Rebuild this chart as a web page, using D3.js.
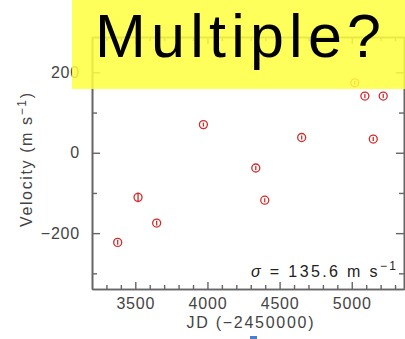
<!DOCTYPE html>
<html>
<head>
<meta charset="utf-8">
<script src="https://cdn.jsdelivr.net/npm/d3@7"></script>
<style>
  body { margin: 0; background: #fff; }
  svg { display: block; }
  text { font-family: "Liberation Sans", Arial, sans-serif; }
</style>
</head>
<body>
<div id="chart"></div>
<script>
// radial velocity measurements (JD - 2450000, m/s)
const jd = [3378, 3519, 3648, 3972, 4335, 4397, 4653, 5021, 5091, 5149, 5218];
const velocity = [-223, -111, -175, 70, -38, -118, 38, 174, 141, 34, 141];
const velErr = [6, 12, 6, 5, 5, 5, 5, 5, 5, 5, 5];
const xTicks = [3500, 4000, 4500, 5000];
const yTicks = [-200, 0, 200];

const width = 405, height = 339;
const margin = { top: 37, right: 1, bottom: 50, left: 92 };

const svg = d3.select("#chart").append("svg")
    .attr("width", width)
    .attr("height", height);

const x = d3.scaleLinear()
    .domain([3200, 5362])
    .range([margin.left, width - margin.right]);

const y = d3.scaleLinear()
    .domain([-339, 288])
    .range([height - margin.bottom, margin.top]);

const axisColor = "#666";
const minorX = d3.range(3300, 5400, 100).filter(d => !xTicks.includes(d));
const minorY = d3.range(-300, 300, 100).filter(d => !yTicks.includes(d));
const fmt = d => (d < 0 ? "\u2212" : "") + d3.format("d")(Math.abs(d));

function styleAxis(g) {
  g.select(".domain").attr("stroke", axisColor).attr("stroke-width", 1.6);
  g.selectAll(".tick line").attr("stroke", axisColor).attr("stroke-width", 1.4);
  g.selectAll(".tick text")
      .attr("fill", "#444")
      .style("font-size", "16px")
      .style("letter-spacing", "0.8px");
}

// bottom axis: major + minor, ticks point inward
svg.append("g")
    .attr("transform", `translate(0,${y.range()[0]})`)
    .call(d3.axisBottom(x).tickValues(xTicks).tickSize(-7).tickPadding(9).tickFormat(fmt).tickSizeOuter(0))
    .call(styleAxis);
svg.append("g")
    .attr("transform", `translate(0,${y.range()[0]})`)
    .call(d3.axisBottom(x).tickValues(minorX).tickSize(-4).tickFormat("").tickSizeOuter(0))
    .call(styleAxis);

// top axis
svg.append("g")
    .attr("transform", `translate(0,${y.range()[1]})`)
    .call(d3.axisTop(x).tickValues(xTicks).tickSize(-7).tickFormat("").tickSizeOuter(0))
    .call(styleAxis);
svg.append("g")
    .attr("transform", `translate(0,${y.range()[1]})`)
    .call(d3.axisTop(x).tickValues(minorX).tickSize(-4).tickFormat("").tickSizeOuter(0))
    .call(styleAxis);

// left axis
svg.append("g")
    .attr("transform", `translate(${margin.left},0)`)
    .call(d3.axisLeft(y).tickValues(yTicks).tickSize(-8).tickPadding(12)
        .tickFormat(fmt).tickSizeOuter(0))
    .call(styleAxis);
svg.append("g")
    .attr("transform", `translate(${margin.left},0)`)
    .call(d3.axisLeft(y).tickValues(minorY).tickSize(-5).tickFormat("").tickSizeOuter(0))
    .call(styleAxis);

// right axis
svg.append("g")
    .attr("transform", `translate(${x.range()[1]},0)`)
    .call(d3.axisRight(y).tickValues(yTicks).tickSize(-8).tickFormat("").tickSizeOuter(0))
    .call(styleAxis);
svg.append("g")
    .attr("transform", `translate(${x.range()[1]},0)`)
    .call(d3.axisRight(y).tickValues(minorY).tickSize(-5).tickFormat("").tickSizeOuter(0))
    .call(styleAxis);

// data points with error bars
const red = "#d42a2a";
const pts = svg.append("g")
  .selectAll("g")
  .data(jd.map((d, i) => ({ jd: d, v: velocity[i], e: velErr[i] })))
  .join("g");

pts.append("line")
    .attr("x1", d => x(d.jd)).attr("x2", d => x(d.jd))
    .attr("y1", d => y(d.v - d.e)).attr("y2", d => y(d.v + d.e))
    .attr("stroke", red).attr("stroke-width", 1.3);

pts.append("circle")
    .attr("cx", d => x(d.jd)).attr("cy", d => y(d.v))
    .attr("r", 4)
    .attr("fill", "none")
    .attr("stroke", red).attr("stroke-width", 1.3);

// axis titles
const yl = svg.append("text")
    .attr("transform", `translate(32,160) rotate(-90)`)
    .attr("text-anchor", "middle")
    .attr("fill", "#444")
    .attr("textLength", 134)
    .attr("lengthAdjust", "spacing")
    .style("font-size", "16px")
    .style("white-space", "pre");
yl.append("tspan").text("Velocity (m s");
yl.append("tspan").attr("dy", -6).style("font-size", "12px").text("\u22121");
yl.append("tspan").attr("dy", 6).text(")");

svg.append("text")
    .attr("x", 250)
    .attr("y", 328)
    .attr("text-anchor", "middle")
    .attr("fill", "#444")
    .attr("textLength", 127)
    .attr("lengthAdjust", "spacing")
    .style("font-size", "16px")
    .text("JD (\u22122450000)");

// sigma annotation
const sig = svg.append("text")
    .attr("x", 251)
    .attr("y", 277)
    .attr("fill", "#222")
    .attr("textLength", 145)
    .attr("lengthAdjust", "spacing")
    .style("font-size", "16px")
    .style("white-space", "pre");
sig.append("tspan").attr("font-style", "italic").text("\u03C3");
sig.append("tspan").text(" = 135.6 m s");
sig.append("tspan").attr("dy", -7).style("font-size", "12px").text("\u22121");

// overlay: translucent yellow banner
svg.append("rect")
    .attr("x", 72).attr("y", 0)
    .attr("width", width - 72).attr("height", 89)
    .attr("fill", "#ffff40")
    .attr("opacity", 0.85);

svg.append("text")
    .attr("x", 95)
    .attr("y", 57)
    .attr("textLength", 286)
    .attr("lengthAdjust", "spacing")
    .attr("fill", "#000")
    .style("font-family", "'Liberation Sans', Arial, sans-serif")
    .style("font-size", "61px")
    .text("Multiple?");

// small blue marker under the x title
svg.append("rect")
    .attr("x", 250).attr("y", 336)
    .attr("width", 7).attr("height", 3)
    .attr("fill", "#4a7fd0");
</script>
</body>
</html>
